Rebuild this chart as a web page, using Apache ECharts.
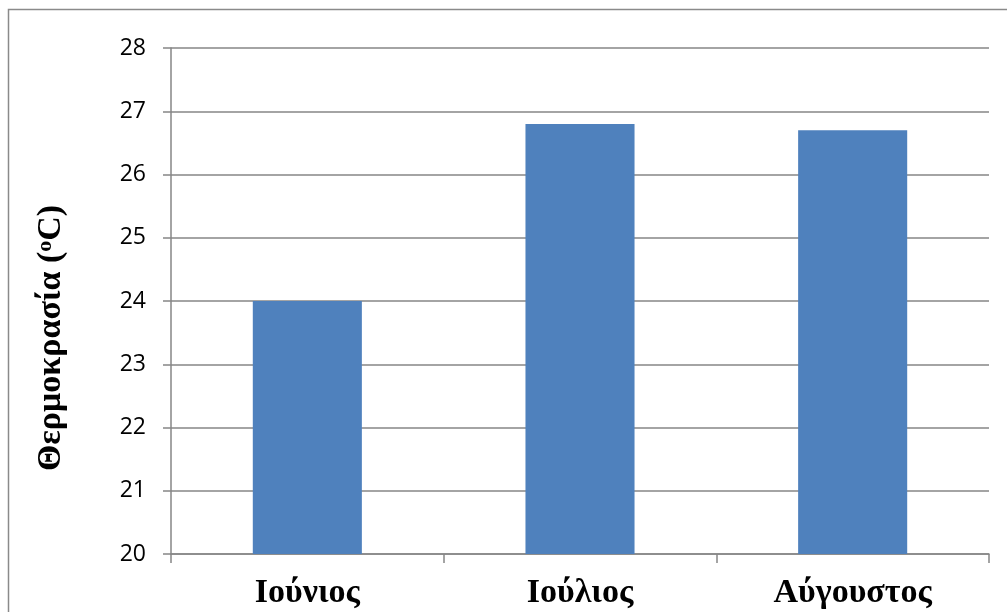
<!DOCTYPE html>
<html>
<head>
<meta charset="utf-8">
<script src="https://cdn.jsdelivr.net/npm/echarts@6/dist/echarts.min.js"></script>
<style>html,body{margin:0;padding:0;background:#fff;}#c{width:1007px;height:612px;}</style>
</head>
<body>
<div id="c"></div>
<script>
const categories = ['Ιούνιος', 'Ιούλιος', 'Αύγουστος'];
const temperatures = [24.0, 26.8, 26.7];
const yTitleMain = 'Θερμοκρασία (';
const yTitleSup = 'o';
const yTitleEnd = 'C)';

const chart = echarts.init(document.getElementById('c'));
chart.setOption({
  animation: false,
  backgroundColor: '#fff',
  grid: { left: 171, right: 18, top: 48, bottom: 58, containLabel: false },
  graphic: [
    { type: 'rect', shape: { x: 8.5, y: 9.5, width: 1100, height: 800 },
      style: { fill: 'none', stroke: '#8a8a8a', lineWidth: 1.5 }, silent: true },
    { type: 'text', x: 51, y: 338, rotation: Math.PI / 2,
      style: {
        text: '{m|' + yTitleMain + '}{s|' + yTitleSup + '}{m|' + yTitleEnd + '}',
        align: 'center', verticalAlign: 'middle',
        rich: {
          m: { fontFamily: 'Liberation Serif', fontWeight: 'bold', fontSize: 34, fill: '#000', color: '#000' },
          s: { fontFamily: 'Liberation Serif', fontWeight: 'bold', fontSize: 22, fill: '#000', color: '#000', verticalAlign: 'top', padding: [0, 0, 12, 0] }
        }
      }
    }
  ],
  xAxis: {
    type: 'category',
    data: categories,
    axisLine: { show: true, lineStyle: { color: '#868686', width: 1.5 } },
    axisTick: { show: true, length: 9, alignWithLabel: false, lineStyle: { color: '#868686', width: 1.5 } },
    axisLabel: { margin: 22, color: '#000', fontFamily: 'Liberation Serif', fontWeight: 'bold', fontSize: 34 },
    splitLine: { show: false }
  },
  yAxis: {
    type: 'value',
    min: 20, max: 28, interval: 1,
    axisLine: { show: true, lineStyle: { color: '#868686', width: 1.5 } },
    axisTick: { show: true, length: 8, lineStyle: { color: '#868686', width: 1.5 } },
    axisLabel: { margin: 25, color: '#000', fontFamily: 'Open Sans', fontSize: 23 },
    splitLine: { show: true, lineStyle: { color: '#868686', width: 1.5 } }
  },
  series: [{
    type: 'bar',
    data: temperatures,
    barWidth: '40%',
    itemStyle: { color: '#4F81BD' }
  }]
});
</script>
</body>
</html>
